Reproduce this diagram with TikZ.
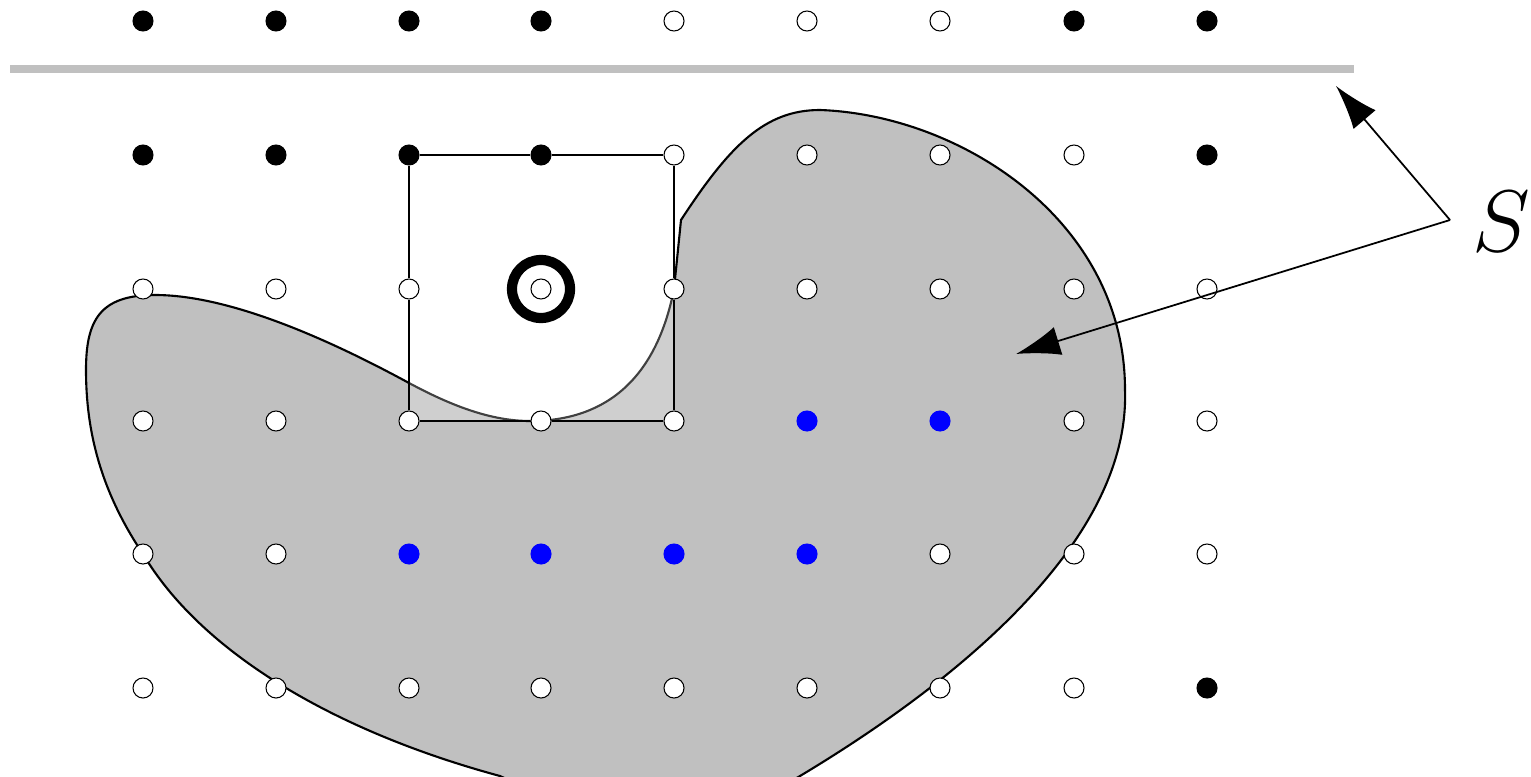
\documentclass[tikz,border=0pt]{standalone}
\usetikzlibrary{arrows.meta}
\begin{document}
\begin{tikzpicture}[x=0.01cm,y=-0.01cm,
  dot/.style={circle,minimum size=0.2cm,inner sep=0pt,line width=0.3pt,fill=#1},
  blob/.style={fill=blobgray,draw=black,line width=0.6pt},
  sq/.style={draw=black,line width=0.6pt},
  arr/.style={line width=0.5pt,-{Latex[length=0.44cm,width=0.29cm]}}]
\definecolor{blobgray}{HTML}{C0C0C0}
\useasboundingbox (0,0) rectangle (1531,776);
% bar
\draw[blobgray,line width=2.4pt] (10,69) -- (1354,69);
% blob
\path[blob] (681,220) .. controls (730,145) and (765,110) .. (820,110)
  .. controls (960,115) and (1125,220) .. (1125,390)
  .. controls (1130,540) and (960,680) .. (800,776)
  .. controls (760,800) and (700,810) .. (650,810)
  .. controls (600,810) and (540,795) .. (500,776)
  .. controls (330,730) and (200,650) .. (143,554)
  .. controls (100,490) and (86,430) .. (86,370)
  .. controls (86,320) and (100,295) .. (155,295)
  .. controls (230,295) and (330,340) .. (409,383)
  .. controls (450,405) and (490,421) .. (530,421)
  .. controls (600,421) and (655,385) .. (674,289)
  -- cycle;
% square
\fill[white,fill opacity=0.25] (409,155) rectangle (674,421);
% target ring
\node[circle,draw=black,line width=2.9pt,minimum size=0.58cm,inner sep=0pt] (ring) at (541,289) {};
% grid points
\foreach \x/\f [count=\i] in {143/black,276/black,409/black,541/black,674/white,807/white,940/white,1074/black,1207/black}
  \node[dot=\f,draw=black] (p\i-0) at (\x,21) {};
\foreach \x/\f [count=\i] in {143/black,276/black,409/black,541/black,674/white,807/white,940/white,1074/white,1207/black}
  \node[dot=\f,draw=black] (p\i-1) at (\x,155) {};
\foreach \x/\f [count=\i] in {143/white,276/white,409/white,541/white,674/white,807/white,940/white,1074/white,1207/white}
  \node[dot=\f,draw=black] (p\i-2) at (\x,289) {};
\foreach \x/\f/\d [count=\i] in {143/white/black,276/white/black,409/white/black,541/white/black,674/white/black,807/blue/blue,940/blue/blue,1074/white/black,1207/white/black}
  \node[dot=\f,draw=\d] (p\i-3) at (\x,421) {};
\foreach \x/\f/\d [count=\i] in {143/white/black,276/white/black,409/blue/blue,541/blue/blue,674/blue/blue,807/blue/blue,940/white/black,1074/white/black,1207/white/black}
  \node[dot=\f,draw=\d] (p\i-4) at (\x,554) {};
\foreach \x/\f [count=\i] in {143/white,276/white,409/white,541/white,674/white,807/white,940/white,1074/white,1207/black}
  \node[dot=\f,draw=black] (p\i-5) at (\x,688) {};
% square edges between grid points
\draw[sq] (p3-1) -- (p4-1) -- (p5-1) -- (p5-2) -- (p5-3) -- (p4-3) -- (p3-3) -- (p3-2) -- (p3-1);
% label and arrows
\coordinate (s) at (1450,220);
\coordinate (t1) at (1336,86);
\coordinate (t2) at (1016,354);
\node[anchor=west,inner sep=0pt] (S) at (1472,222) {\fontsize{29}{30}\selectfont$S$};
\draw[arr] (s) -- (t1);
\draw[arr] (s) -- (t2);
\end{tikzpicture}
\end{document}
